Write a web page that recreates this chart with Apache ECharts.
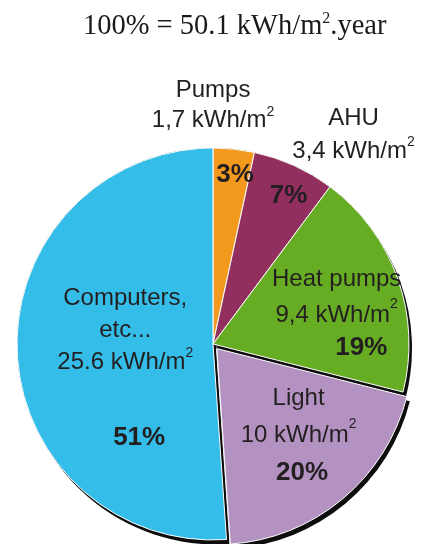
<!DOCTYPE html>
<html>
<head>
<meta charset="utf-8">
<script src="https://cdn.jsdelivr.net/npm/echarts@6/dist/echarts.min.js"></script>
<style>
  html, body { margin: 0; padding: 0; background: #ffffff; }
  #chart { width: 422px; height: 544px; }
</style>
</head>
<body>
<div id="chart"></div>
<script>
// Annual energy use per end use, kWh/m²
const categories = ['Pumps', 'AHU', 'Heat pumps', 'Light', 'Computers,\netc...'];
const kwhValues = [1.7, 3.4, 9.4, 10, 25.6];
const kwhText = ['1,7', '3,4', '9,4', '10', '25.6'];
const totalText = '100% = 50.1 kWh/m{s|2}.year';

const sliceColors = ['#F39A1E', '#922F5E', '#67AD24', '#B392C2', '#35BDEA'];
const explodedIndex = 3;

// Label nudges relative to the pie's own inside-label anchor, plus line spacing
const nameNudge = [[-10.7, -138.6], [98.8, -117.4], [28.5, -12.7], [20.8, -4.5], [13.2, -17.3]];
const nameLineHeight = [30, 33, 36.6, 36.6, 32];
const pctNudge = [[11.3, -68.6], [33.8, -56.1], [53.2, 37.8], [24.3, 51.0], [27.1, 90.2]];

const SANS = '"Liberation Sans", Arial, sans-serif';
const SERIF = '"Liberation Serif", "Times New Roman", serif';
const TEXT_COLOR = '#231f20';

const pieBase = {
  type: 'pie',
  center: [213, 344],
  radius: 196,
  startAngle: 90,
  clockwise: true,
  silent: true,
  animation: false,
  percentPrecision: 0,
  labelLine: { show: false },
  emphasis: { disabled: true }
};

function nameLabel(i) {
  const lines = categories[i].split('\n').map(function (l) { return '{n|' + l + '}'; });
  lines.push('{n|' + kwhText[i] + ' kWh/m}{s|2}');
  return lines.join('\n');
}

const chart = echarts.init(document.getElementById('chart'), null, { renderer: 'canvas' });

chart.setOption({
  backgroundColor: '#ffffff',
  animation: false,
  title: {
    text: totalText,
    left: 83,
    top: 11,
    padding: 0,
    textStyle: {
      fontFamily: SERIF,
      fontSize: 28.5,
      fontWeight: 'normal',
      color: '#1a1a1a',
      lineHeight: 32,
      rich: {
        s: { fontFamily: SERIF, fontSize: 16, color: '#1a1a1a', lineHeight: 26, verticalAlign: 'top' }
      }
    }
  },
  series: [
    // drop shadow under the whole pie
    Object.assign({}, pieBase, {
      name: 'shadow',
      selectedMode: 'single',
      selectedOffset: 6,
      itemStyle: {
        color: '#000000',
        shadowColor: 'rgba(0,0,0,0.95)',
        shadowOffsetX: 3,
        shadowOffsetY: 4.5,
        shadowBlur: 0
      },
      label: { show: false },
      data: kwhValues.map(function (v, i) {
        return { value: v, name: categories[i], selected: i === explodedIndex };
      })
    }),
    // coloured slices
    Object.assign({}, pieBase, {
      name: 'energy',
      selectedMode: 'single',
      selectedOffset: 6,
      itemStyle: { borderColor: '#ffffff', borderWidth: 1 },
      label: { show: false },
      data: kwhValues.map(function (v, i) {
        return {
          value: v,
          name: categories[i],
          selected: i === explodedIndex,
          itemStyle: { color: sliceColors[i] }
        };
      })
    }),
    // names and kWh figures
    Object.assign({}, pieBase, {
      name: 'names',
      itemStyle: { color: 'rgba(0,0,0,0)', borderWidth: 0 },
      label: {
        show: true,
        position: 'inside',
        color: TEXT_COLOR,
        fontFamily: SANS,
        fontSize: 24,
        rich: {
          n: { fontFamily: SANS, fontSize: 24, color: TEXT_COLOR },
          s: { fontFamily: SANS, fontSize: 14, color: TEXT_COLOR, verticalAlign: 'top' }
        }
      },
      labelLayout: function (p) {
        const d = nameNudge[p.dataIndex];
        return { dx: d[0], dy: d[1] };
      },
      data: kwhValues.map(function (v, i) {
        return {
          value: v,
          name: categories[i],
          label: {
            formatter: nameLabel(i),
            rich: {
              n: { lineHeight: nameLineHeight[i] },
              s: { lineHeight: nameLineHeight[i] - 11 }
            }
          }
        };
      })
    }),
    // percentage shares
    Object.assign({}, pieBase, {
      name: 'shares',
      itemStyle: { color: 'rgba(0,0,0,0)', borderWidth: 0 },
      label: {
        show: true,
        position: 'inside',
        formatter: '{d}%',
        color: TEXT_COLOR,
        fontFamily: SANS,
        fontSize: 26,
        fontWeight: 'bold'
      },
      labelLayout: function (p) {
        const d = pctNudge[p.dataIndex];
        return { dx: d[0], dy: d[1] };
      },
      data: kwhValues.map(function (v, i) {
        return { value: v, name: categories[i] };
      })
    })
  ]
});
</script>
</body>
</html>
